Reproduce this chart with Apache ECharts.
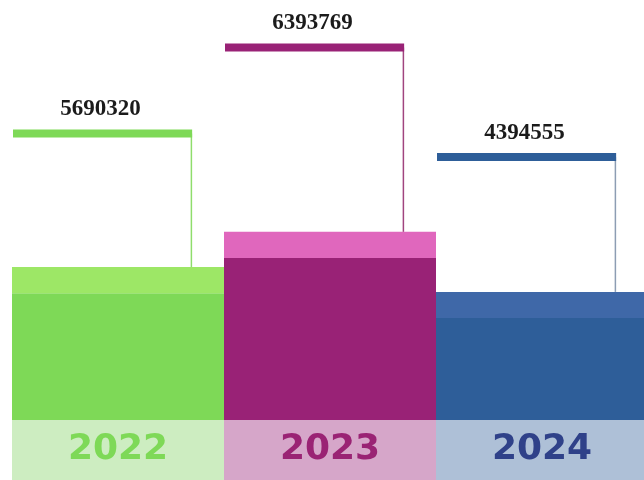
<!DOCTYPE html>
<html>
<head>
<meta charset="utf-8">
<script src="https://cdn.jsdelivr.net/npm/echarts@6/dist/echarts.min.js"></script>
<style>html,body{margin:0;padding:0;background:#fff}#c{width:644px;height:480px}</style>
</head>
<body>
<div id="c"></div>
<script>
// ---- data ----
const years = ['2022', '2023', '2024'];
const totals = [5690320, 6393769, 4394555];
// display levels (0-100 scale of the plot height)
const barLevel = [36.4, 44.8, 30.5];
const flagLevel = [68.2, 88.7, 62.6];
const capLevel = 6.2;

// ---- styles ----
const bodyColors = ['#7ed957', '#992276', '#2e5e99'];
const capColors = ['#9de766', '#e067bd', '#3f68a8'];
const bandColors = ['#cdedc1', '#d6a6c9', '#aec0d7'];
const yearColors = ['#7ed957', '#9a2374', '#2f4189'];
const flagColors = ['#7ed957', '#992276', '#2e5e99'];
const stemColors = ['#8fdd6c', '#a1457f', '#8d9db3'];

const rich = {};
years.forEach((y, i) => {
  rich['y' + i] = {
    width: 212, height: 60, lineHeight: 60,
    align: 'center', verticalAlign: 'middle',
    backgroundColor: bandColors[i], color: yearColors[i],
    fontFamily: 'DejaVu Sans', fontWeight: 'bold', fontSize: 36
  };
});

const chart = echarts.init(document.getElementById('c'), null, {renderer: 'canvas'});
chart.setOption({
  animation: false,
  backgroundColor: '#ffffff',
  grid: {left: 12, width: 636, top: 0, bottom: 60, outerBoundsMode: 'none', containLabel: false},
  xAxis: {
    type: 'category', data: years,
    axisLine: {show: false}, axisTick: {show: false}, splitLine: {show: false},
    axisLabel: {
      interval: 0, margin: 0, verticalAlign: 'top',
      formatter: (v, i) => '{y' + i + '|' + v + '}',
      rich: rich
    }
  },
  yAxis: {type: 'value', min: 0, max: 100, show: false},
  series: [
    {
      type: 'bar', stack: 's', barWidth: '100%', silent: true,
      data: barLevel.map((v, i) => ({value: v - capLevel, itemStyle: {color: bodyColors[i]}}))
    },
    {
      type: 'bar', stack: 's', barWidth: '100%', silent: true,
      data: barLevel.map((v, i) => ({value: capLevel, itemStyle: {color: capColors[i]}}))
    },
    {
      type: 'custom', silent: true, z: 5,
      data: years.map((y, i) => [i, flagLevel[i], barLevel[i], totals[i]]),
      renderItem: function (params, api) {
        const i = api.value(0);
        const top = api.coord([i, api.value(1)]);
        const base = api.coord([i, api.value(2)]);
        const bw = api.size([1, 0])[0];
        const left = top[0] - bw / 2 + 1;
        const right = left + bw * 0.845;
        const th = 8;
        return {
          type: 'group',
          children: [
            {type: 'line', shape: {x1: right - 0.75, y1: top[1], x2: right - 0.75, y2: base[1]},
             style: {stroke: stemColors[i], lineWidth: 1.5}},
            {type: 'rect', shape: {x: left, y: top[1] - th / 2, width: right - left, height: th},
             style: {fill: flagColors[i]}},
            {type: 'text', style: {
              text: String(api.value(3)), x: (left + right) / 2 - 2, y: top[1] - th / 2 - 9,
              align: 'center', verticalAlign: 'bottom',
              font: 'bold 23px "Liberation Serif"', fill: '#1b1b1b'
            }}
          ]
        };
      }
    }
  ]
});
</script>
</body>
</html>
